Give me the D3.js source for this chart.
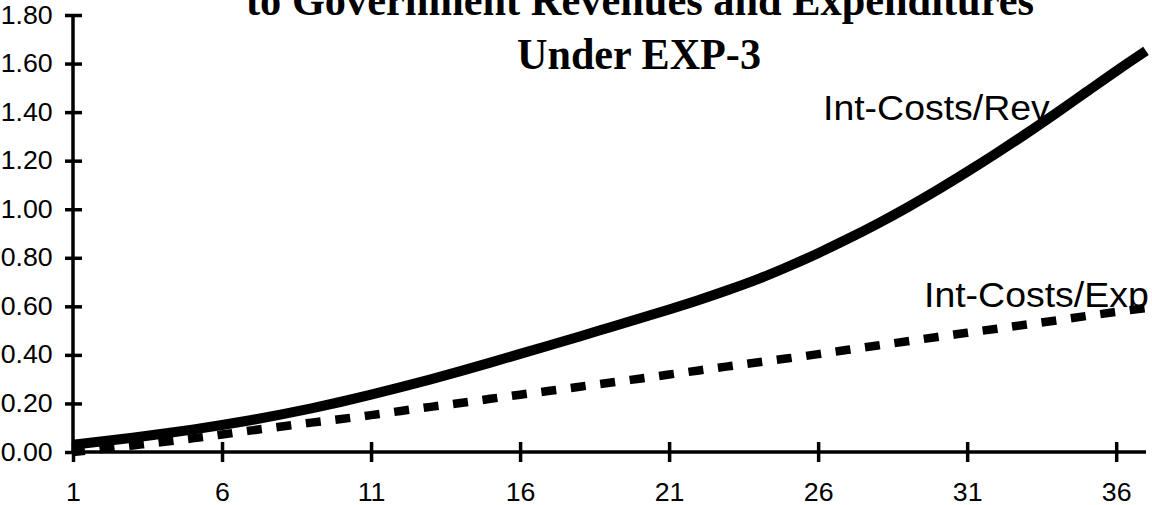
<!DOCTYPE html>
<html>
<head>
<meta charset="utf-8">
<script src="https://cdn.jsdelivr.net/npm/d3@7"></script>
<style>
  html, body { margin: 0; padding: 0; background: #fff; }
  svg { display: block; }
</style>
</head>
<body>
<svg id="chart" width="1152" height="505"></svg>
<script>
// Years of the projection (x categories)
const years = d3.range(1, 38);
const xTickValues = [1, 6, 11, 16, 21, 26, 31, 36];
const yTickValues = [0, 0.2, 0.4, 0.6, 0.8, 1.0, 1.2, 1.4, 1.6, 1.8];

// Interest costs as a share of revenues
const intCostsRev = [
  0.030, 0.044, 0.059, 0.075, 0.092, 0.111, 0.132, 0.155, 0.180, 0.207,
  0.236, 0.267, 0.299, 0.333, 0.368, 0.404, 0.440, 0.476, 0.513, 0.550,
  0.587, 0.626, 0.668, 0.713, 0.764, 0.819, 0.878, 0.941, 1.008, 1.079,
  1.154, 1.232, 1.313, 1.397, 1.483, 1.569, 1.652
];

// Interest costs as a share of expenditures
const intCostsExp = [
  0.000, 0.013, 0.027, 0.041, 0.056, 0.072, 0.089, 0.105, 0.121, 0.136,
  0.152, 0.169, 0.186, 0.202, 0.219, 0.236, 0.252, 0.269, 0.285, 0.302,
  0.319, 0.336, 0.353, 0.370, 0.386, 0.403, 0.421, 0.439, 0.456, 0.474,
  0.491, 0.508, 0.525, 0.542, 0.560, 0.577, 0.593
];

const titleLines = ["to Government Revenues and Expenditures", "Under EXP-3"];
const seriesLabels = ["Int-Costs/Rev", "Int-Costs/Exp"];

const svg = d3.select("#chart");

const x = d3.scaleLinear().domain([1, 37]).range([73, 1146]);
const y = d3.scaleLinear().domain([0, 1.8]).range([452, 15]);

const sans = "'Liberation Sans', Arial, sans-serif";
const serif = "'Liberation Serif', 'Times New Roman', serif";

// Title (first line runs off the top edge)
svg.append("text")
  .attr("x", 640).attr("y", 15)
  .attr("text-anchor", "middle")
  .attr("font-family", serif).attr("font-weight", "bold").attr("font-size", 44)
  .attr("textLength", 788).attr("lengthAdjust", "spacingAndGlyphs")
  .text(titleLines[0]);
svg.append("text")
  .attr("x", 639).attr("y", 69)
  .attr("text-anchor", "middle")
  .attr("font-family", serif).attr("font-weight", "bold").attr("font-size", 44)
  .attr("textLength", 244).attr("lengthAdjust", "spacingAndGlyphs")
  .text(titleLines[1]);

// Y axis (labels and ticks crossing the line)
const yAxis = svg.append("g")
  .attr("transform", `translate(${x(1)},0)`)
  .call(d3.axisLeft(y).tickValues(yTickValues).tickSize(8).tickPadding(11)
    .tickFormat(d3.format(".2f")));
yAxis.select(".domain").attr("d", `M0,${y(1.8)}V${y(0)}`);
yAxis.selectAll(".tick line").attr("x1", 9).attr("x2", -8);

// X axis (labels and ticks crossing the line)
const xAxis = svg.append("g")
  .attr("transform", `translate(0,${y(0)})`)
  .call(d3.axisBottom(x).tickValues(xTickValues).tickSize(10).tickPadding(21)
    .tickFormat(d3.format("d")));
xAxis.select(".domain").attr("d", `M${x(1)},0H${x(37)}`);
xAxis.selectAll(".tick line").attr("y1", -10).attr("y2", 10);

svg.selectAll(".domain, .tick line")
  .style("stroke", "#000").style("stroke-width", "3.5px");

svg.selectAll(".tick text")
  .attr("fill", "#000")
  .attr("font-family", sans)
  .attr("font-size", 25)
  .attr("transform", "scale(1.07,1)");

// Lines
const line = d3.line()
  .x((d, i) => x(years[i]))
  .y(d => y(d))
  .curve(d3.curveMonotoneX);

svg.append("path")
  .datum(intCostsExp)
  .attr("d", line)
  .attr("fill", "none")
  .attr("stroke", "#000")
  .attr("stroke-width", 8.5)
  .attr("stroke-dasharray", "15,14.7")
  .attr("stroke-dashoffset", 3)
  .attr("stroke-linecap", "butt");

svg.append("path")
  .datum(intCostsRev)
  .attr("d", line)
  .attr("fill", "none")
  .attr("stroke", "#000")
  .attr("stroke-width", 10)
  .attr("stroke-linecap", "butt")
  .attr("stroke-linejoin", "round");

// Series labels
svg.append("text")
  .attr("transform", "translate(823,120) scale(1.07,1)")
  .attr("font-family", sans).attr("font-size", 35).attr("fill", "#000")
  .text(seriesLabels[0]);
svg.append("text")
  .attr("transform", "translate(924,307) scale(1.07,1)")
  .attr("font-family", sans).attr("font-size", 35).attr("fill", "#000")
  .text(seriesLabels[1]);
</script>
</body>
</html>
